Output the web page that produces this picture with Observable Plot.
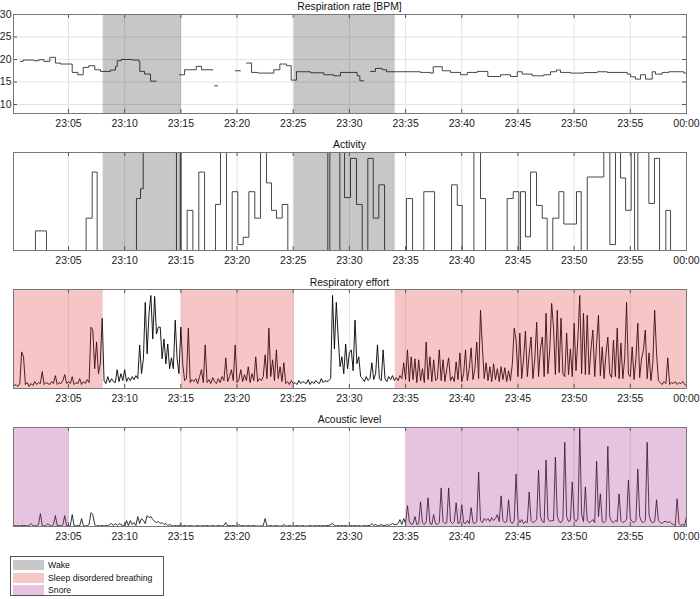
<!DOCTYPE html>
<html><head><meta charset="utf-8">
<script src="https://cdn.jsdelivr.net/npm/d3@7"></script>
<script src="https://cdn.jsdelivr.net/npm/@observablehq/plot@0.6"></script>
<style>
body{margin:0;background:#fff;font-family:"Liberation Sans",Arial,Helvetica,sans-serif;}
#wrap{position:relative;width:700px;height:599px;overflow:hidden;background:#fff;}
.title{position:absolute;left:13px;width:673px;text-align:center;font-size:10.4px;line-height:13px;color:#111;}
.panel{position:absolute;left:0;}
#legend{position:absolute;left:10px;top:556px;width:152px;height:38px;border:1px solid #555;background:#fff;}
.lrow{position:absolute;left:2px;height:10px;font-size:8.7px;line-height:10px;color:#111;}
.sw{position:absolute;left:0;top:0;width:31px;height:10px;}
.lt{position:absolute;left:35px;top:0;white-space:nowrap;}
</style></head><body><div id="wrap"></div>
<script>
// ---- axis ticks (minutes after 23:00) ----
const tickMinutes = [5, 10, 15, 20, 25, 30, 35, 40, 45, 50, 55, 60];
const tickLabels = ["23:05","23:10","23:15","23:20","23:25","23:30","23:35","23:40","23:45","23:50","23:55","00:00"];
const xDomain = [0.107, 60];

// ---- panel titles ----
const titles = ["Respiration rate [BPM]", "Activity", "Respiratory effort", "Acoustic level"];

// ---- respiration rate (step series, null = missing) ----
const rrMinute = [0.73,0.97,1.92,2.36,2.81,3.34,3.84,4.29,5.33,5.83,6.31,6.81,7.34,7.85,8.74,9.18,9.34,9.69,10.67,11.26,11.35,11.77,12.30,12.81,12.82,
  14.88,15.33,16.37,16.84,17.85,17.86,18.00,18.29,18.30,19.86,20.31,20.32,20.84,21.29,21.85,23.27,23.81,24.40,24.82,25.29,26.54,27.72,28.61,29.21,30.69,30.93,31.28,31.29,
  31.88,32.32,32.92,33.30,36.33,37.22,37.46,38.26,39.00,39.89,40.49,41.38,42.32,43.45,44.34,44.94,45.38,46.27,47.30,47.90,48.43,48.79,49.68,50.86,52.06,52.95,
  54.73,55.02,55.46,55.91,56.35,56.95,57.24,57.84,58.43,59.76,60.00];
const rrValue = [19.58,19.88,19.73,19.96,19.58,20.48,19.21,18.99,17.13,16.61,18.24,18.62,17.72,17.35,17.65,18.47,19.73,20.01,19.88,19.58,17.35,16.76,15.19,15.19,null,
  16.61,17.72,18.47,17.72,17.72,null,14.15,14.15,null,17.50,17.50,null,19.21,17.13,16.98,17.72,18.99,18.62,15.42,17.28,17.05,16.61,16.38,17.13,16.38,15.27,15.27,null,
  17.35,18.02,17.72,17.28,17.13,16.98,18.39,17.50,17.13,16.61,17.13,17.35,16.22,16.61,16.22,17.28,16.76,16.38,16.61,17.28,17.65,17.13,16.98,17.10,17.28,17.13,
  16.76,16.16,15.64,16.61,15.64,17.28,16.76,17.13,17.28,16.98,16.98];
const rrTicks = [10, 15, 20, 25, 30];

// ---- activity (step series, 0..1) ----
const activityMinute = [0.107,2.06,3.04,6.57,7.11,7.55,11.05,11.41,11.65,14.61,14.95,15.03,15.56,16.07,16.60,17.11,18.08,18.53,19.06,19.57,20.07,20.55,21.05,21.58,
  22.09,22.62,23.07,23.51,24.02,24.52,28.08,28.26,29.15,29.57,30.10,30.63,31.14,31.64,32.12,32.62,33.13,35.08,35.62,36.62,37.58,39.09,39.60,40.04,41.08,41.67,42.12,
  44.04,44.58,45.08,45.23,45.67,46.12,46.65,47.16,47.60,48.10,48.64,49.08,50.21,50.63,51.17,52.64,53.18,53.68,54.13,54.58,55.08,55.38,55.67,56.65,57.15,57.60,58.16,58.58,60];
const activityValue = [0,0.20,0,0.33,0.80,0,0.53,0.63,1,0,1,0,0.41,0,0.80,0,0.47,1,0,0.60,0.06,0.135,0.60,0.33,
  1,0.69,0.41,0.33,0.47,0,1,0,1,0.54,0.94,0.47,0,0.94,0.33,0.67,0,0.53,0,0.60,0,0.67,0.46,0,1,0.53,0,
  0.53,0.60,0,0.60,0.14,0.80,0.46,0.33,0,0.33,0.60,0.27,0.60,0,0.75,1,0.06,1,0.74,0.41,1,0,1,0.48,0.94,0,0.41,0,0];

// ---- respiratory effort (one value every 10 s from 23:00:10, 0..1) ----
const effort = [
0.03,0.04,0.02,0.05,0.37,0.32, 0.04,0.06,0.02,0.05,0.03,0.07, 0.04,0.06,0.05,0.17,0.04,0.06, 0.05,0.04,0.07,0.05,0.13,0.04,
0.06,0.05,0.08,0.14,0.05,0.07, 0.05,0.12,0.04,0.06,0.05,0.10, 0.04,0.07,0.05,0.09,0.06,0.62, 0.59,0.20,0.47,0.15,0.25,0.71,
0.08,0.05,0.12,0.06,0.10,0.07, 0.06,0.19,0.07,0.15,0.08,0.19, 0.07,0.11,0.08,0.12,0.09,0.13, 0.10,0.44,0.15,0.30,0.87,0.35,
0.76,0.94,0.50,0.93,0.55,0.62, 0.62,0.30,0.50,0.25,0.45,0.20, 0.31,0.20,0.69,0.30,0.15,0.62, 0.25,0.08,0.10,0.61,0.06,0.09,
0.07,0.10,0.05,0.12,0.19,0.06, 0.44,0.06,0.09,0.05,0.11,0.07, 0.05,0.10,0.06,0.12,0.08,0.31, 0.07,0.12,0.19,0.08,0.44,0.06,
0.09,0.19,0.07,0.14,0.08,0.22, 0.06,0.15,0.08,0.32,0.07,0.10, 0.08,0.12,0.34,0.10,0.61,0.12, 0.29,0.08,0.39,0.10,0.22,0.07,
0.26,0.05,0.07,0.04,0.08,0.05, 0.06,0.04,0.08,0.05,0.07,0.06, 0.05,0.09,0.04,0.07,0.05,0.08, 0.06,0.05,0.10,0.06,0.08,0.07,
0.08,0.10,0.94,0.40,0.87,0.52, 0.22,0.32,0.15,0.45,0.20,0.36, 0.39,0.18,0.69,0.25,0.32,0.12, 0.10,0.07,0.12,0.08,0.10,0.26,
0.09,0.15,0.44,0.10,0.08,0.39, 0.10,0.07,0.12,0.09,0.13,0.08, 0.11,0.08,0.13,0.10,0.26,0.09, 0.39,0.07,0.32,0.09,0.30,0.06,
0.29,0.08,0.20,0.06,0.47,0.09, 0.32,0.07,0.29,0.08,0.10,0.39, 0.08,0.29,0.07,0.20,0.31,0.08, 0.12,0.07,0.27,0.09,0.36,0.07,
0.15,0.39,0.08,0.20,0.41,0.09, 0.20,0.47,0.10,0.79,0.42,0.10, 0.26,0.08,0.22,0.07,0.25,0.09, 0.20,0.07,0.22,0.09,0.21,0.07,
0.18,0.08,0.25,0.61,0.49,0.12, 0.56,0.10,0.30,0.58,0.12,0.35, 0.52,0.10,0.30,0.67,0.12,0.40, 0.52,0.12,0.76,0.15,0.40,0.86,
0.61,0.14,0.79,0.16,0.71,0.15, 0.12,0.56,0.14,0.40,0.12,0.66, 0.18,0.50,0.94,0.15,0.76,0.14, 0.74,0.14,0.40,0.59,0.12,0.45,
0.74,0.13,0.42,0.10,0.35,0.52, 0.15,0.11,0.49,0.12,0.61,0.10, 0.46,0.10,0.30,0.87,0.14,0.12, 0.42,0.09,0.30,0.66,0.11,0.30,
0.39,0.59,0.10,0.36,0.08,0.25, 0.79,0.36,0.08,0.06,0.04,0.07, 0.05,0.31,0.04,0.06,0.05,0.07, 0.04,0.06,0.05,0.07,0.04,0.03];

// ---- acoustic level (one value every 10 s from 23:00:10, 0..1) ----
const acoustic = [
0.01,0.005,0.01,0.005,0.01,0.01, 0.01,0.005,0.01,0.03,0.01,0.005, 0.01,0.02,0.13,0.01,0.005,0.01, 0.03,0.01,0.005,0.02,0.11,0.01,
0.01,0.005,0.02,0.11,0.01,0.005, 0.01,0.12,0.01,0.005,0.01,0.005, 0.08,0.01,0.005,0.01,0.02,0.14, 0.12,0.02,0.005,0.01,0.005,0.01,
0.005,0.01,0.005,0.02,0.03,0.01, 0.03,0.01,0.03,0.02,0.01,0.005, 0.06,0.01,0.06,0.02,0.04,0.01, 0.10,0.03,0.08,0.06,0.03,0.11,
0.09,0.10,0.07,0.05,0.04,0.05, 0.03,0.04,0.02,0.03,0.01,0.02, 0.01,0.005,0.01,0.005,0.01,0.02, 0.005,0.01,0.005,0.005,0.01,0.005,
0.005,0.005,0.01,0.005,0.005,0.01, 0.005,0.01,0.005,0.005,0.01,0.005, 0.005,0.01,0.005,0.005,0.01,0.04, 0.005,0.01,0.005,0.01,0.005,0.005,
0.02,0.005,0.01,0.005,0.005,0.01, 0.005,0.005,0.01,0.005,0.005,0.005, 0.005,0.01,0.08,0.005,0.005,0.01, 0.005,0.005,0.01,0.005,0.005,0.005,
0.02,0.005,0.005,0.01,0.005,0.005, 0.005,0.01,0.005,0.005,0.01,0.005, 0.005,0.005,0.01,0.005,0.005,0.01, 0.005,0.01,0.005,0.01,0.005,0.01,
0.01,0.02,0.03,0.01,0.005,0.01, 0.005,0.01,0.005,0.01,0.005,0.005, 0.01,0.005,0.01,0.005,0.01,0.005, 0.005,0.01,0.005,0.01,0.01,0.03,
0.01,0.02,0.005,0.01,0.02,0.01, 0.01,0.02,0.01,0.02,0.03,0.02, 0.02,0.03,0.07,0.02,0.08,0.03, 0.21,0.05,0.02,0.03,0.10,0.02,
0.03,0.25,0.04,0.02,0.05,0.29, 0.03,0.02,0.12,0.03,0.02,0.04, 0.39,0.05,0.03,0.04,0.39,0.05, 0.03,0.05,0.24,0.03,0.04,0.22,
0.04,0.03,0.06,0.03,0.19,0.04, 0.03,0.05,0.55,0.06,0.04,0.08, 0.06,0.08,0.05,0.09,0.06,0.08, 0.12,0.05,0.31,0.06,0.04,0.05,
0.27,0.05,0.03,0.06,0.53,0.08, 0.04,0.07,0.03,0.05,0.04,0.35, 0.06,0.04,0.05,0.07,0.57,0.10, 0.05,0.04,0.67,0.08,0.05,0.06,
0.06,0.70,0.10,0.05,0.04,0.07, 0.85,0.10,0.05,0.06,0.45,0.08, 0.05,0.08,0.99,0.12,0.05,0.40, 0.06,0.04,0.05,0.07,0.04,0.66,
0.10,0.33,0.05,0.04,0.06,0.81, 0.10,0.05,0.04,0.06,0.05,0.33, 0.06,0.04,0.05,0.07,0.47,0.08, 0.05,0.04,0.06,0.58,0.10,0.05,
0.04,0.06,0.85,0.12,0.05,0.04, 0.05,0.27,0.06,0.04,0.03,0.05, 0.05,0.04,0.05,0.03,0.02,0.01, 0.28,0.03,0.01,0.02,0.01,0.10];

// ---- annotated intervals (minutes after 23:00) ----
const wakeStart = [8.09, 25.09], wakeEnd = [15.06, 34.08];
const sdbStart = [0.107, 15.06, 34.08], sdbEnd = [8.09, 25.09, 60];
const snoreStart = [0.107, 35.05], snoreEnd = [5.06, 60];
const legendLabels = ["Wake", "Sleep disordered breathing", "Snore"];
const legendColors = ["#c8c8c8", "#f6c5c5", "#e6c4df"];

// ---- build tables ----
const rr = rrMinute.map((t, i) => ({t, v: rrValue[i]}));
const act = activityMinute.map((t, i) => ({t, v: activityValue[i]}));
const eff = effort.map((v, i) => ({t: (i + 1) / 6, v}));
const aco = acoustic.map((v, i) => ({t: (i + 1) / 6, v}));
const wake = wakeStart.map((s, i) => ({s, e: wakeEnd[i]}));
const sdb = sdbStart.map((s, i) => ({s, e: sdbEnd[i]}));
const snore = snoreStart.map((s, i) => ({s, e: snoreEnd[i]}));

const wrap = document.getElementById("wrap");
const FONT = "'Liberation Sans', Arial, Helvetica, sans-serif";

function addTitle(text, top) {
  const d = document.createElement("div");
  d.className = "title"; d.style.top = top + "px"; d.textContent = text;
  wrap.appendChild(d);
}

function panel(top, height, yDomain, marks, yTicks) {
  const [y0, y1] = yDomain;
  const dy = (y1 - y0) * 4 / (height - 23);
  const dx = (xDomain[1] - xDomain[0]) * 4 / 673;
  const all = [
    Plot.ruleX(tickMinutes, {stroke: "#e3e3e3", strokeWidth: 1}),
    ...(yTicks ? [Plot.ruleY(yTicks.filter(v => v < y1), {stroke: "#e3e3e3", strokeWidth: 1})] : []),
    ...marks,
    Plot.ruleX(tickMinutes, {y1: y1, y2: y1 - dy, stroke: "#555"}),
    Plot.ruleX(tickMinutes, {y1: y0, y2: y0 + dy, stroke: "#555"}),
    ...(yTicks ? [
      Plot.ruleY(yTicks, {x1: xDomain[0], x2: xDomain[0] + dx, stroke: "#555"}),
      Plot.ruleY(yTicks, {x1: xDomain[1], x2: xDomain[1] - dx, stroke: "#555"}),
      Plot.axisY({ticks: yTicks, tickSize: 0, tickPadding: 2, fontSize: 10.5, label: null})
    ] : []),
    Plot.frame({stroke: "#777", strokeWidth: 1}),
    Plot.axisX({ticks: tickMinutes, tickFormat: d => tickLabels[tickMinutes.indexOf(d)], tickSize: 0, tickPadding: 6, fontSize: 10.5, label: null})
  ];
  const svg = Plot.plot({
    width: 700, height, marginLeft: 13, marginRight: 14, marginTop: 1, marginBottom: 22,
    x: {domain: xDomain},
    y: {domain: yDomain, axis: yTicks ? undefined : null},
    style: {fontFamily: FONT, fontSize: "10.5px", color: "#222", background: "transparent", overflow: "visible"},
    marks: all
  });
  const d = document.createElement("div");
  d.className = "panel"; d.style.top = top + "px";
  d.appendChild(svg);
  wrap.appendChild(d);
}

// Panel 1: respiration rate
addTitle(titles[0], 0);
panel(13, 122, [8, 30], [
  Plot.line(rr, {x: "t", y: "v", curve: "step-after", stroke: "#333", strokeWidth: 0.9, clip: true}),
  Plot.rect(wake, {x1: "s", x2: "e", y1: 8, y2: 30, fill: "#000", fillOpacity: 0.22})
], rrTicks);

// Panel 2: activity
addTitle(titles[1], 138);
panel(151, 121, [0, 1], [
  Plot.line(act, {x: "t", y: "v", curve: "step-after", stroke: "#333", strokeWidth: 0.9, clip: true}),
  Plot.rect(wake, {x1: "s", x2: "e", y1: 0, y2: 1, fill: "#000", fillOpacity: 0.22})
], null);

// Panel 3: respiratory effort
addTitle(titles[2], 276);
panel(288, 122, [0, 1], [
  Plot.line(eff, {x: "t", y: "v", stroke: "#000", strokeWidth: 0.9, clip: true}),
  Plot.rect(sdb, {x1: "s", x2: "e", y1: 0, y2: 1, fill: "#e03030", fillOpacity: 0.28})
], null);

// Panel 4: acoustic level
addTitle(titles[3], 413);
panel(426, 122, [0, 1], [
  Plot.line(aco, {x: "t", y: "v", stroke: "#000", strokeWidth: 0.8, clip: true}),
  Plot.rect(snore, {x1: "s", x2: "e", y1: 0, y2: 1, fill: "#ac3a98", fillOpacity: 0.3})
], null);

// Legend
const lg = document.createElement("div");
lg.id = "legend";
legendLabels.forEach((lab, i) => {
  const r = document.createElement("div");
  r.className = "lrow"; r.style.top = (3 + i * 12.5) + "px";
  r.innerHTML = `<div class="sw" style="background:${legendColors[i]}"></div><div class="lt"></div>`;
  r.querySelector(".lt").textContent = lab;
  lg.appendChild(r);
});
wrap.appendChild(lg);
</script></body></html>
